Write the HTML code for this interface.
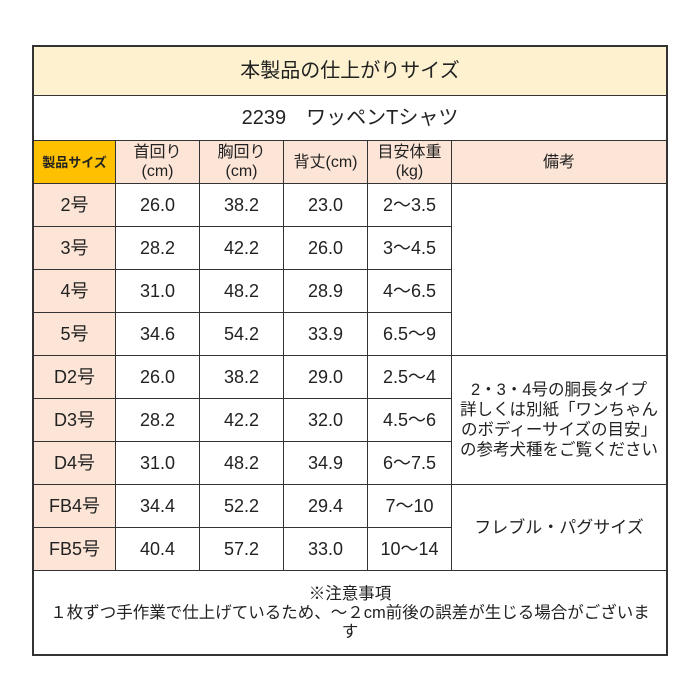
<!DOCTYPE html>
<html><head><meta charset="utf-8"><style>
body{margin:0;width:700px;height:700px;background:#fff;position:relative;font-family:"Liberation Sans","Noto Sans CJK JP",sans-serif;color:#222;overflow:hidden}
.c{position:absolute;box-sizing:border-box;border:1px solid #333;display:flex;align-items:center;justify-content:center;text-align:center;font-size:18px;line-height:19px}
.p{background:#fce4d6}
</style></head><body>
<div class="c" style="left:32px;top:45px;width:636px;height:51px;background:#fdf1cf;font-size:20px;border-width:2px 2px 1px 2px">本製品の仕上がりサイズ</div>
<div class="c" style="left:32px;top:95px;width:636px;height:46px;font-size:20px;border-width:1px 2px">2239　ワッペンTシャツ</div>
<div class="c" style="left:32px;top:140px;width:84px;height:44px;background:#ffc000;font-size:13px;font-weight:bold;border-left-width:2px">製品サイズ</div>
<div class="c p" style="left:115px;top:140px;width:85px;height:44px;font-size:16px">首回り<br>(cm)</div>
<div class="c p" style="left:199px;top:140px;width:85px;height:44px;font-size:16px">胸回り<br>(cm)</div>
<div class="c p" style="left:283px;top:140px;width:85px;height:44px;font-size:16px">背丈(cm)</div>
<div class="c p" style="left:367px;top:140px;width:85px;height:44px;font-size:16px">目安体重<br>(kg)</div>
<div class="c p" style="left:451px;top:140px;width:217px;height:44px;font-size:16px;border-right-width:2px">備考</div>
<div id="rows"></div>
<div class="c" style="left:451px;top:183px;width:217px;height:173px;border-right-width:2px"></div>
<div class="c" style="left:451px;top:355px;width:217px;height:130px;font-size:16.5px;line-height:20px;border-right-width:2px">2・3・4号の胴長タイプ<br>詳しくは別紙「ワンちゃん<br>のボディーサイズの目安」<br>の参考犬種をご覧ください</div>
<div class="c" style="left:451px;top:484px;width:217px;height:87px;font-size:17px;border-right-width:2px">フレブル・パグサイズ</div>
<div class="c" style="left:32px;top:570px;width:636px;height:86px;font-size:16.5px;line-height:19px;align-items:flex-start;padding-top:14px;border-width:1px 2px 2px 2px">※注意事項<br>１枚ずつ手作業で仕上げているため、～２cm前後の誤差が生じる場合がございま<br>す</div>
<script>
var d=[["2号","26.0","38.2","23.0","2～3.5"],["3号","28.2","42.2","26.0","3～4.5"],["4号","31.0","48.2","28.9","4～6.5"],["5号","34.6","54.2","33.9","6.5～9"],["D2号","26.0","38.2","29.0","2.5～4"],["D3号","28.2","42.2","32.0","4.5～6"],["D4号","31.0","48.2","34.9","6～7.5"],["FB4号","34.4","52.2","29.4","7～10"],["FB5号","40.4","57.2","33.0","10～14"]];
var xs=[32,115,199,283,367,451],h="";
d.forEach(function(r,i){var y=183+i*43;r.forEach(function(t,j){h+='<div class="c'+(j==0?' p':'')+'" style="left:'+xs[j]+'px;top:'+y+'px;width:'+(xs[j+1]-xs[j]+1)+'px;height:44px'+(j==0?';border-left-width:2px':'')+'">'+t+'</div>';});});
document.getElementById("rows").outerHTML=h;
</script>
</body></html>
